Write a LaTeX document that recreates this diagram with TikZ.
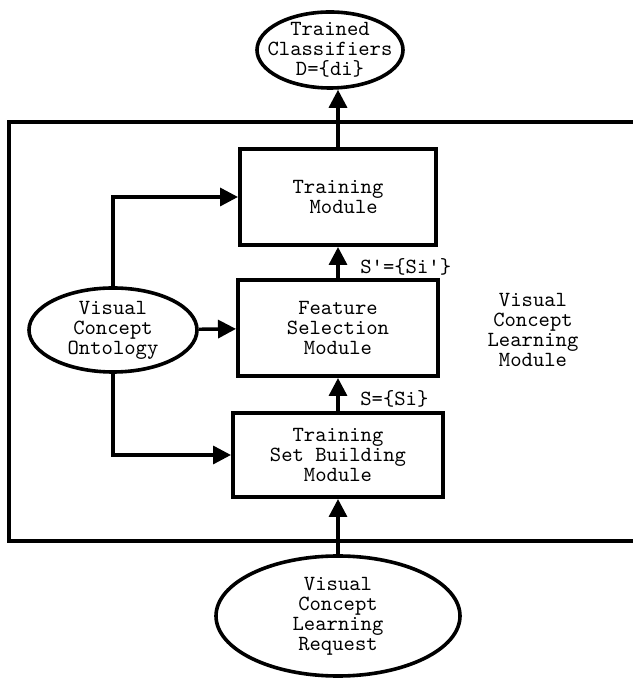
\documentclass[tikz,border=0pt]{standalone}
\usepackage{fontspec}
\usetikzlibrary{arrows.meta,shapes.geometric}

\begin{document}
\begin{tikzpicture}[x=.5pt,y=.5pt,
  font=\ttfamily\fontsize{10.8}{10}\selectfont,
  >={Triangle[length=9pt,width=9pt]},
  module/.style={draw, line width=2pt, align=center, inner sep=0pt},
  goal/.style={draw, ellipse, line width=1.8pt, inner sep=0pt},
  txt/.style={align=center},
  flow/.style={->, line width=1.7pt}]
\useasboundingbox (0,0) rectangle (632,679);
% learning module frame, open at the right
\draw[line width=1.8pt] (640,557)--(9,557)--(9,138)--(640,138);
\node[txt] (vclm) at (533,349) {Visual\\Concept\\Learning\\Module};
% modules
\node[module, minimum width=98pt, minimum height=48pt] (trainmod) at (338,482) {Training\\\hspace*{.525em}Module};
\node[module, minimum width=100pt, minimum height=48pt] (feature) at (338,351) {Feature\\Selection\\Module};
\node[module, minimum width=105pt, minimum height=42pt] (tsb) at (338,224) {Training\\Set Building\\Module};
% ellipses
\node[goal, minimum width=73pt, minimum height=38pt,
  label={[txt]center:Trained\\Classifiers\\D=\{di\}}] (trained) at (330,629) {};
\node[goal, minimum width=84pt, minimum height=42pt,
  label={[txt]center:Visual\\Concept\\Ontology}] (onto) at (113,349) {};
\node[goal, minimum width=122pt, minimum height=60pt,
  label={[txt]center:Visual\\Concept\\Learning\\Request}] (request) at (338,63) {};
% flows
\draw[flow] (request) -- (tsb);
\draw[flow] (tsb) -- (feature) node[midway, right=7pt, yshift=-2pt] {S=\{Si\}};
\draw[flow] (feature) -- (trainmod) node[midway, right=7pt, yshift=-2pt] {S'=\{Si'\}};
\draw[flow] (trainmod.north) -- (trainmod.north |- trained.south);
\draw[flow] (onto) -- (feature);
\draw[flow] (onto.north) |- (trainmod);
\draw[flow] (onto.south) |- (tsb);
\end{tikzpicture}
\end{document}
